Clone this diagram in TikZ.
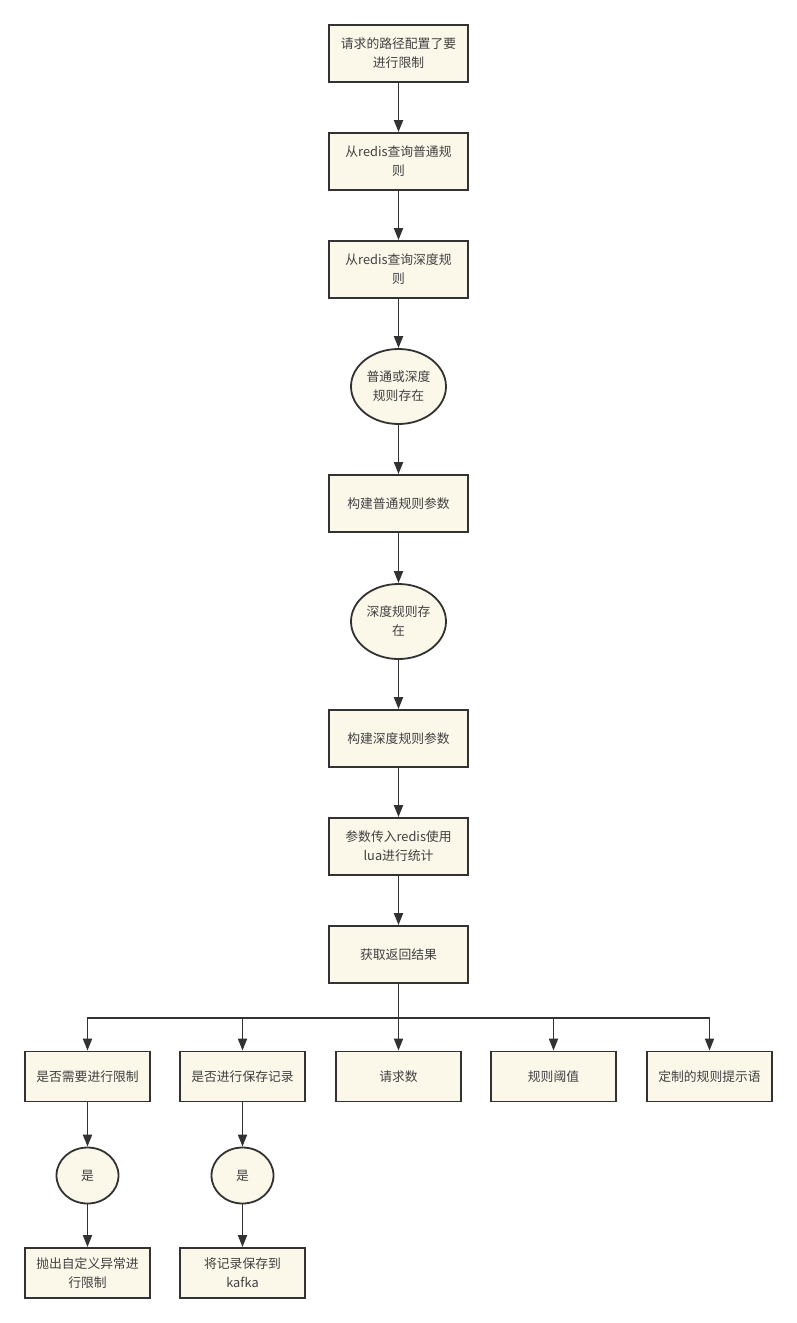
\documentclass[tikz,border=0pt]{standalone}
\usepackage{fontspec}
\setmainfont{Noto Sans CJK SC}
\usetikzlibrary{shapes.geometric,arrows.meta}
\definecolor{boxfill}{RGB}{251,248,234}
\definecolor{linec}{RGB}{50,50,50}
\definecolor{textc}{RGB}{64,64,64}
\begin{document}
\begin{tikzpicture}[x=1pt,y=-1pt,
  base/.style={draw=linec, line width=1.8pt, fill=boxfill, text=textc, font=\fontsize{12.8}{19}\selectfont, align=center, inner sep=0pt},
  proc/.style={base, rectangle, minimum width=139pt, minimum height=57pt},
  proctwo/.style={base, rectangle, minimum width=125pt, minimum height=50pt},
  dec/.style={base, ellipse, minimum width=95pt, minimum height=75pt},
  dectwo/.style={base, ellipse, minimum width=62pt, minimum height=56pt},
  link/.style={draw=linec, line width=1.8pt},
  arr/.style={link, -{Triangle[length=12pt,width=9pt]}}]
\useasboundingbox[fill=white] (0,0) rectangle (797,1323);
\node[proc] (n1) at (398.5,53.5) {请求的路径配置了要\\进行限制};
\node[proc] (n2) at (398.5,161.5) {从redis查询普通规\\则};
\node[proc] (n3) at (398.5,269.5) {从redis查询深度规\\则};
\node[dec] (d1) at (398.5,386.5) {普通或深度\\规则存在};
\node[proc] (n4) at (398.5,503.5) {构建普通规则参数};
\node[dec] (d2) at (398.5,621.5) {深度规则存\\在};
\node[proc] (n5) at (398.5,738.5) {构建深度规则参数};
\node[proc] (n6) at (398.5,846.5) {参数传入redis使用\\lua进行统计};
\node[proc] (n7) at (398.5,954.5) {获取返回结果};
\node[proctwo] (b1) at (87.5,1076.5) {是否需要进行限制};
\node[proctwo] (b2) at (242.5,1076.5) {是否进行保存记录};
\node[proctwo] (b3) at (398.5,1076.5) {请求数};
\node[proctwo] (b4) at (553.5,1076.5) {规则阈值};
\node[proctwo] (b5) at (709.5,1076.5) {定制的规则提示语};
\node[dectwo] (c1) at (87.5,1175.5) {是};
\node[dectwo] (c2) at (242.5,1175.5) {是};
\node[proctwo] (e1) at (87.5,1273) {抛出自定义异常进\\行限制};
\node[proctwo] (e2) at (242.5,1273) {将记录保存到\\kafka};
\draw[arr] (n1) -- (n2);
\draw[arr] (n2) -- (n3);
\draw[arr] (n3) -- (d1);
\draw[arr] (d1) -- (n4);
\draw[arr] (n4) -- (d2);
\draw[arr] (d2) -- (n5);
\draw[arr] (n5) -- (n6);
\draw[arr] (n6) -- (n7);
\coordinate (j) at (398.5,1018);
\draw[link] (n7.south) -- (j);
\draw[arr] (j) -| (b1.north);
\draw[arr] (j) -| (b2.north);
\draw[arr] (j) -- (b3.north);
\draw[arr] (j) -| (b4.north);
\draw[arr] (j) -| (b5.north);
\draw[arr] (b1) -- (c1);
\draw[arr] (c1) -- (e1);
\draw[arr] (b2) -- (c2);
\draw[arr] (c2) -- (e2);
\end{tikzpicture}
\end{document}
